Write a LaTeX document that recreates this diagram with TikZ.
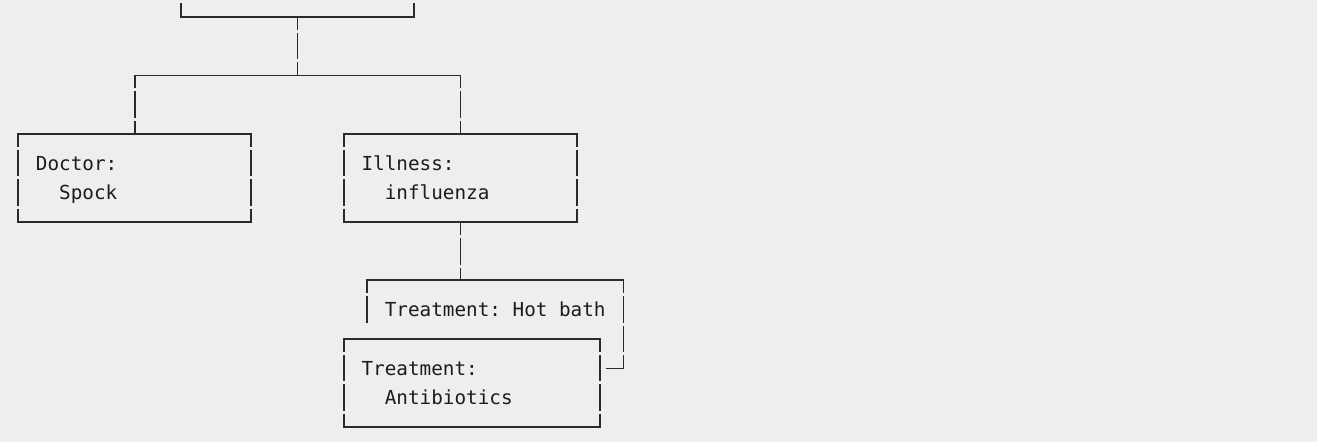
\documentclass[tikz,border=0pt]{standalone}
\usepackage{fontspec}
\setmonofont{DejaVu Sans Mono}
\usetikzlibrary{calc}
\definecolor{bgc}{HTML}{EEEEEE}
\definecolor{lc}{HTML}{2A2A2A}
\definecolor{txt}{HTML}{1C1C1C}
\newcommand\rs{\rule[-7.6pt]{0pt}{29.3pt}}
\newcommand\ind{\hspace*{23.26pt}}
\newcommand\monofnt{\ttfamily\fontsize{19.3pt}{29.3pt}\selectfont}
\begin{document}
\begin{tikzpicture}[x=1pt,y=-1pt,
  hline/.style={draw=lc, line width=1.7pt, line cap=rect},
  vline/.style={draw=lc, line width=1.7pt, dash pattern=on 26.3pt off 3pt, dash phase=13.15pt},
  box/.style={anchor=north west, inner xsep=17.445pt, inner ysep=14.65pt,
    align=left, text=txt, font=\monofnt,
    execute at begin node={\lineskip=0pt\lineskiplimit=0pt\frenchspacing
      \spaceskip=11.62pt plus 0pt minus 0pt\xspaceskip=11.62pt plus 0pt minus 0pt},
    append after command={
      (\tikzlastnode.north west) edge[hline] (\tikzlastnode.north east)
      (\tikzlastnode.south west) edge[hline] (\tikzlastnode.south east)
      (\tikzlastnode.north west) edge[vline] (\tikzlastnode.south west)
      (\tikzlastnode.north east) edge[vline] (\tikzlastnode.south east)}},
  w20/.style={minimum width=232.6pt, text width=197.71pt, minimum height=87.9pt},
  w22/.style={minimum width=255.86pt, text width=220.97pt, minimum height=87.9pt}]
\fill[bgc] (0,0) rectangle (1317,442);
\useasboundingbox (0,0) rectangle (1317,442);
\clip (0,0) rectangle (1317,442);

\node[box, w20] (top) at (181.12,-71.3) {};
\node[box, w20] (doc) at (18.3,133.8) {\rs Doctor:\\\rs\ind Spock};
\node[box, w20] (ill) at (343.94,133.8) {\rs Illness:\\\rs\ind influenza};
\node[box, w22] (hb) at (367.2,280.3) {\rs Treatment: Hot bath\\\rs};
\fill[bgc] (338.13,324.25) rectangle (605.6,442);
\node[box, w22] (ab) at (343.94,338.9) {\rs Treatment:\\\rs\ind Antibiotics};

\coordinate (j) at ($(top.south)+(0,58.6)$);
\draw[vline] (top.south) -- (j);
\draw[vline] (doc.north) -- (doc.north |- j);
\draw[hline] (doc.north |- j) -- (ill.north |- j);
\draw[vline] (ill.north) -- (ill.north |- j);
\draw[vline] (ill.south) -- (ill.south |- hb.north);
\end{tikzpicture}
\end{document}
